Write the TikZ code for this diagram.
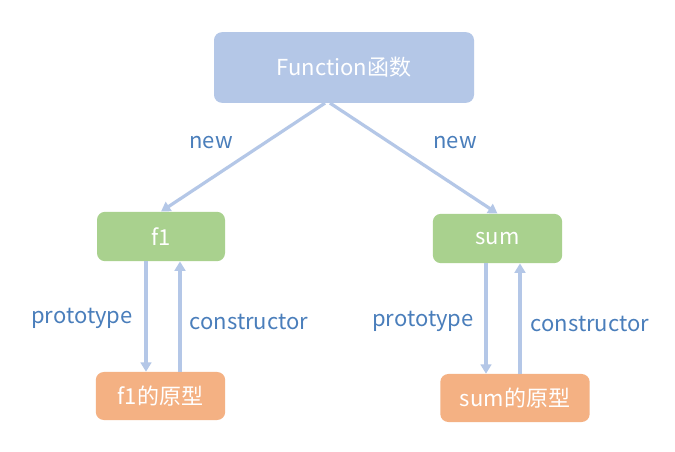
\documentclass[tikz,border=0pt]{standalone}
\usepackage{fontspec}
\setmainfont{Noto Sans CJK SC}
\usetikzlibrary{arrows.meta,calc}
\definecolor{boxblue}{HTML}{B4C7E7}
\definecolor{boxgreen}{HTML}{A9D18E}
\definecolor{boxorange}{HTML}{F4B183}
\definecolor{lbl}{HTML}{4A7EBB}
\begin{document}
\begin{tikzpicture}[x=0.75pt,y=-0.75pt,
  box/.style={rectangle,rounded corners=6pt,inner sep=0pt,text=white,font=\fontsize{16.5}{19}\selectfont},
  lab/.style={text=lbl,inner sep=0pt,font=\fontsize{16.5}{19}\selectfont},
  arr/.style={draw=boxblue,line width=2.4pt,-{Triangle[width=8pt,length=7pt]}}]
\useasboundingbox[fill=white] (0,0) rectangle (675,452);
\node[box,fill=boxblue,minimum width=195pt,minimum height=53pt] (fn) at (344,67.5) {Function函数};
\node[box,fill=boxgreen,minimum width=96pt,minimum height=37pt] (f1) at (161,236.5) {f1};
\node[box,fill=boxgreen,minimum width=97pt,minimum height=37pt] (sum) at (497.5,238.5) {sum};
\node[box,fill=boxorange,minimum width=97pt,minimum height=36pt] (p1) at (160.5,396) {f1的原型};
\node[box,fill=boxorange,minimum width=112pt,minimum height=36pt] (p2) at (515,398) {sum的原型};
\coordinate (a1t) at ($(f1.south)+(-15,0)$);
\coordinate (a1b) at (a1t |- p1.north);
\coordinate (b1t) at ($(f1.south)+(19,0)$);
\coordinate (b1b) at (b1t |- p1.north);
\coordinate (a2t) at ($(sum.south)+(-11.5,0)$);
\coordinate (a2b) at (a2t |- p2.north);
\coordinate (b2t) at ($(sum.south)+(22.5,0)$);
\coordinate (b2b) at (b2t |- p2.north);
\draw[arr] ($(fn.south)+(-19,0)$) -- (f1.north);
\draw[arr] ($(fn.south)+(-14,0)$) -- (sum.north);
\draw[arr] (a1t) -- (a1b);
\draw[arr] (b1b) -- (b1t);
\draw[arr] (a2t) -- (a2b);
\draw[arr] (b2b) -- (b2t);
\node[lab] (n1) at (211,143) {new};
\node[lab] (n2) at (455,143) {new};
\node[lab] (pt1) at (82,318) {prototype};
\node[lab] (c1) at (249,322) {constructor};
\node[lab] (pt2) at (423,321) {prototype};
\node[lab] (c2) at (590,324) {constructor};
\end{tikzpicture}
\end{document}
